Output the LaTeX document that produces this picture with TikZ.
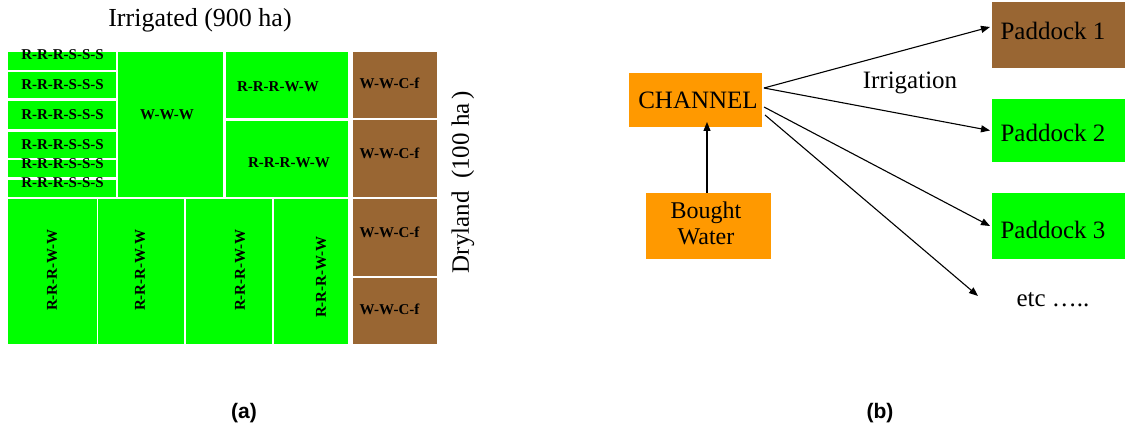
\documentclass[tikz,border=0pt]{standalone}
\usepackage{fontspec}
\setmainfont{Liberation Serif}
\newfontfamily\capfont{Liberation Sans}
\usetikzlibrary{arrows.meta}
\definecolor{crop}{HTML}{00FF00}
\definecolor{fallow}{HTML}{996633}
\definecolor{water}{HTML}{FF9900}
\tikzset{
  plot/.style={inner sep=0pt, outer sep=0pt},
  gbox/.style={plot, fill=crop},
  bbox/.style={plot, fill=fallow},
  obox/.style={plot, fill=water},
  tag/.style={inner sep=0pt, font=\fontsize{15}{15}\selectfont\bfseries},
  big/.style={inner sep=0pt, font=\fontsize{25}{26}\selectfont},
  flow/.style={line width=1.1pt, -{Triangle[length=9pt,width=7pt]}},
  sub/.style={inner sep=0pt, font=\capfont\fontsize{21}{21}\selectfont\bfseries}
}
\begin{document}
\begin{tikzpicture}[x=1pt,y=-1pt]
\useasboundingbox (0,0) rectangle (1125,435);

% ---------- (a) farm layout ----------
\node[big, font=\fontsize{26}{26}\selectfont] (irr) at (200,20) {Irrigated (900 ha)};

% small paddocks, first column
\node[gbox, minimum width=108, minimum height=18] (s1) at (62,61) {};
\node[gbox, minimum width=108, minimum height=26] (s2) at (62,85) {};
\node[gbox, minimum width=108, minimum height=28] (s3) at (62,115) {};
\node[gbox, minimum width=108, minimum height=26] (s4) at (62,145) {};
\node[gbox, minimum width=108, minimum height=17] (s5) at (62,168.5) {};
\node[gbox, minimum width=108, minimum height=17] (s6) at (62,188.5) {};
\node[tag] (t1) at (62.5,55) {R-R-R-S-S-S};
\node[tag] (t2) at (62.5,85) {R-R-R-S-S-S};
\node[tag] (t3) at (62.5,115) {R-R-R-S-S-S};
\node[tag] (t4) at (62.5,145) {R-R-R-S-S-S};
\node[tag] (t5) at (62.5,164) {R-R-R-S-S-S};
\node[tag] (t6) at (62.5,183) {R-R-R-S-S-S};

% larger irrigated paddocks
\node[gbox, minimum width=105, minimum height=145] (ww) at (170.5,124.5) {};
\node[tag] (tww) at (167,115) {W-W-W};
\node[gbox, minimum width=122, minimum height=66] (r1) at (287,85) {};
\node[tag] (tr1) at (278,87) {R-R-R-W-W};
\node[gbox, minimum width=122, minimum height=76] (r2) at (287,159) {};
\node[tag] (tr2) at (289,163) {R-R-R-W-W};

% bottom row, labels turned upright
\node[gbox, minimum width=89, minimum height=145] (b1) at (52.5,271.5) {};
\node[gbox, minimum width=86, minimum height=145] (b2) at (141,271.5) {};
\node[gbox, minimum width=86, minimum height=145] (b3) at (229,271.5) {};
\node[gbox, minimum width=74, minimum height=145] (b4) at (311,271.5) {};
\node[tag, rotate=90] (tb1) at (52,270) {R-R-R-W-W};
\node[tag, rotate=90] (tb2) at (140,270) {R-R-R-W-W};
\node[tag, rotate=90] (tb3) at (240,270) {R-R-R-W-W};
\node[tag, rotate=90] (tb4) at (321,277) {R-R-R-W-W};

% dryland column
\node[bbox, minimum width=84, minimum height=66] (d1) at (395,85) {};
\node[bbox, minimum width=84, minimum height=77] (d2) at (395,158.5) {};
\node[bbox, minimum width=84, minimum height=77] (d3) at (395,237.5) {};
\node[bbox, minimum width=84, minimum height=66] (d4) at (395,311) {};
\node[tag] (td1) at (389.5,83) {W-W-C-f};
\node[tag] (td2) at (389.5,153) {W-W-C-f};
\node[tag] (td3) at (389.5,232) {W-W-C-f};
\node[tag] (td4) at (389.5,309) {W-W-C-f};
\node[big, rotate=90] (dry) at (463,182) {Dryland\ \ (100 ha\,)};

% ---------- (b) water distribution ----------
\node[obox, minimum width=133, minimum height=54] (ch) at (695.5,100) {};
\node[big] (tch) at (698,100) {CHANNEL};
\node[obox, minimum width=125, minimum height=66] (bw) at (708.5,226) {};
\node[big, align=center, font=\fontsize{24}{26}\selectfont] (tbw) at (706,223) {Bought\\Water};

\node[bbox, minimum width=133, minimum height=66] (p1) at (1058.5,35) {};
\node[gbox, minimum width=133, minimum height=63] (p2) at (1058.5,130.5) {};
\node[gbox, minimum width=133, minimum height=66] (p3) at (1058.5,226) {};
\node[big] (tp1) at (1053,31) {Paddock 1};
\node[big] (tp2) at (1053,133) {Paddock 2};
\node[big] (tp3) at (1053,230) {Paddock 3};
\node[big] (etc) at (1053,300) {etc …..};
\node[big] (irg) at (910,83) {Irrigation};

\coordinate (o1) at (764,88);
\coordinate (o2) at (764,107);
\coordinate (o3) at (765,115);
\coordinate (e4) at (978,296);
\draw[flow] (bw.north -| 707,0) -- ([yshift=5]ch.south -| 707,0);
\draw[flow] (o1) -- ([xshift=-2]p1.west |- 0,27);
\draw[flow] (o1) -- ([xshift=-2]p2.west);
\draw[flow] (o2) -- ([xshift=-2]p3.west |- 0,226);
\draw[flow] (o3) -- (e4);

% captions
\node[sub] (ca) at (244,413) {(a)};
\node[sub] (cb) at (880,413) {(b)};
\end{tikzpicture}
\end{document}
